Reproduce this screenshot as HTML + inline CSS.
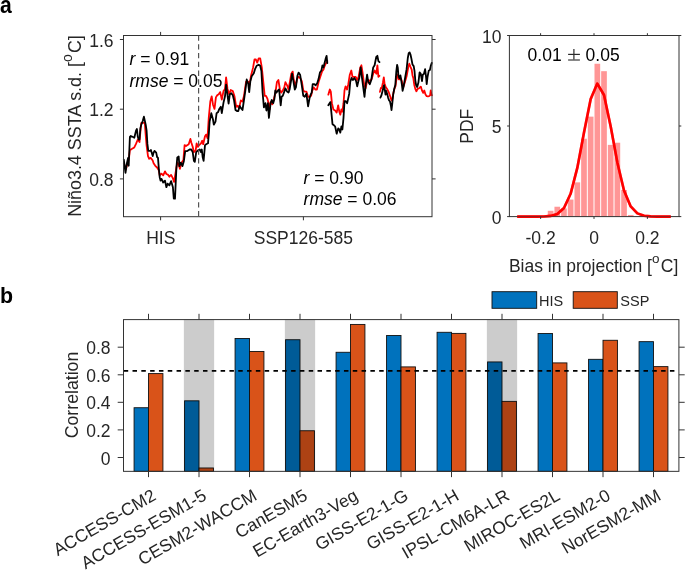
<!DOCTYPE html>
<html><head><meta charset="utf-8"><style>
html,body{margin:0;padding:0;background:#fff;overflow:hidden;}
svg{display:block;filter:blur(0.3px);}
text{font-family:"Liberation Sans",sans-serif;}
.t{font-size:17.5px;fill:#262626;}
.k{font-size:17.5px;fill:#000;}
.l{font-size:14.5px;fill:#262626;}
.p{font-size:22.5px;font-weight:bold;fill:#000;}
</style></head><body>
<svg width="685" height="570" viewBox="0 0 685 570">
<rect width="685" height="570" fill="#fff"/>
<g fill="none" stroke-linejoin="round" stroke-linecap="round">
<polyline points="123.8,163.2 125.9,169.3 129.0,157.9 129.9,150.0 131.6,149.1 134.3,147.4 136.0,143.9 137.8,139.5 139.5,142.1 140.4,131.6 141.3,122.8 143.1,122.8 144.8,122.8 145.7,135.1 146.6,145.6 148.0,156.1 149.2,158.8 150.9,157.9 152.7,160.5 153.6,163.2 155.3,165.8 157.1,167.5 158.8,170.2 159.7,175.4 161.5,173.7 163.2,175.4 165.0,171.4 166.4,174.0 168.2,174.9 169.4,176.7 171.1,174.9 172.9,178.4 174.1,181.9 175.5,173.2 177.3,162.6 178.7,164.4 179.9,168.8 181.7,162.6 183.4,160.0 184.6,145.1 186.0,146.0 188.7,144.2 190.4,138.9 191.3,142.5 192.7,146.8 193.9,152.1 195.7,150.4 196.6,143.3 198.0,146.8 199.2,145.1 201.0,143.3 202.2,140.7 203.2,144.2 205.0,136.3 206.2,134.6 207.5,138.1 208.8,117.4 210.3,101.6 211.7,96.3 213.0,104.7 214.5,108.9 215.9,97.4 217.2,95.3 218.7,94.2 220.2,92.1 221.8,99.5 223.5,91.1 225.0,88.9 226.1,77.4 227.5,88.9 229.2,94.2 230.7,90.0 232.8,91.1 234.5,96.3 236.2,106.8 237.6,105.8 239.1,107.9 240.8,100.5 242.5,101.6 243.9,96.3 246.1,81.6 248.2,81.6 249.6,84.7 250.9,76.3 253.0,67.9 254.5,59.5 255.9,59.5 257.2,62.6 258.7,58.4 260.2,58.4 261.8,67.4 263.3,82.1 264.7,95.8 266.0,95.8 267.5,98.9 268.5,103.2 269.6,109.5 270.6,102.1 272.3,104.2 273.8,98.9 275.3,93.7 276.9,82.1 278.4,80.0 279.9,89.5 281.2,92.6 282.8,90.5 284.3,87.4 285.4,82.1 287.1,85.3 288.5,89.5 290.0,81.1 291.3,73.7 292.7,71.6 293.8,80.0 295.5,86.3 297.0,79.0 298.4,76.8 300.1,77.9 301.8,81.1 303.3,90.5 304.7,91.6 306.4,91.6 308.1,96.8 309.6,96.8 311.1,95.8 312.3,90.5 313.8,87.4 315.3,89.5 316.9,89.5 318.6,82.1 320.3,76.8 322.0,71.6 323.5,69.5 324.5,66.3 326.0,63.2 327.3,61.1" stroke="#ff0000" stroke-width="1.8"/>
<polyline points="328.3,94.7 329.8,89.5 330.8,91.6 331.9,103.2 333.4,109.5 335.1,110.5 336.7,112.6 338.2,105.3 339.3,111.6 340.3,114.7 341.4,109.5 342.4,111.6 343.5,103.2 344.5,90.5 345.6,86.3 347.1,89.5 348.3,84.2 349.8,74.7 351.3,70.5 352.5,76.8 354.0,76.8 355.7,76.8 357.2,80.0 358.6,76.8 360.3,67.4 361.4,65.3 362.4,71.6 364.1,84.2 365.6,88.4 367.1,81.1 368.3,80.0 369.8,81.0 371.7,78.9 373.2,73.7 374.6,70.5 376.3,73.7 377.4,65.3 378.4,76.8 379.5,75.8" stroke="#ff0000" stroke-width="1.8"/>
<polyline points="379.9,91.9 380.9,88.0 381.8,88.0 383.0,82.2 383.8,77.4 384.5,83.2 385.7,87.0 387.1,89.0 388.6,91.9 390.0,95.7 391.5,100.5 392.4,98.6 393.4,92.8 394.4,89.0 395.5,86.1 396.8,76.4 397.8,74.5 398.7,79.3 400.0,79.3 400.9,78.3 401.9,81.2 402.9,88.0 404.0,85.1 405.0,81.8 406.6,76.3 408.2,67.6 409.3,63.7 410.5,66.8 411.7,69.6 412.5,75.5 413.3,77.9 414.3,85.0 415.3,88.9 416.4,91.3 417.6,88.9 419.2,88.2 420.8,86.6 422.0,90.5 423.2,92.9 424.3,90.5 425.5,94.5 426.7,96.1 427.9,96.4 429.1,96.1 430.1,95.3 430.7,90.5 431.4,94.5 431.9,95.3" stroke="#ff0000" stroke-width="1.8"/>
<polyline points="123.8,159.6 125.5,172.8 126.9,163.2 128.1,157.9 128.7,165.8 129.9,136.8 130.8,136.0 132.5,136.8 134.3,137.7 136.0,130.7 136.9,129.0 137.8,136.8 138.7,139.5 139.5,139.5 140.4,128.1 141.3,124.6 142.7,121.1 143.9,116.7 145.7,124.6 146.6,130.7 147.4,143.9 148.3,150.9 150.1,150.9 150.9,150.0 152.7,156.1 153.6,152.6 154.5,150.9 156.2,152.6 157.1,157.0 158.0,157.9 158.8,168.4 159.7,177.2 160.6,180.7 161.5,178.9 163.2,182.5 165.0,180.7 166.4,187.2 167.6,183.7 169.4,185.4 171.1,181.1 172.9,187.2 173.8,198.6 175.0,198.6 176.4,167.9 177.3,157.4 178.7,156.5 179.4,166.1 180.8,162.6 182.5,166.1 183.9,160.9 185.2,151.2 186.9,151.2 189.6,149.5 191.3,149.5 192.7,152.1 193.9,160.9 194.8,161.8 196.2,152.1 198.0,150.4 199.7,149.5 201.0,152.1 201.8,149.5 202.7,157.4 203.6,160.9 205.0,145.1 206.2,144.2 208.0,143.3 208.9,132.8 209.6,121.6 211.3,113.2 213.0,119.5 213.8,124.7 215.5,121.6 216.6,113.2 218.1,112.1 219.3,108.9 220.8,106.8 221.8,113.2 223.5,102.6 225.0,96.3 226.1,84.7 227.1,92.1 228.6,103.7 229.8,94.2 231.3,93.2 232.8,95.3 234.1,100.5 235.5,110.0 237.0,111.1 238.3,111.1 239.7,105.8 240.8,107.9 242.5,110.0 243.9,100.5 245.4,90.0 246.7,79.5 248.2,83.7 249.2,92.1 250.3,81.6 251.7,76.3 253.8,73.2 255.1,68.9 256.6,65.8 258.7,64.7 260.2,65.8 261.4,71.1 262.6,92.6 263.9,107.4 265.4,103.2 266.4,110.5 267.9,103.2 268.9,117.9 270.6,103.2 271.7,100.0 273.2,103.2 274.4,98.9 275.3,90.5 276.5,92.6 278.0,90.5 279.1,89.5 280.7,105.3 281.6,96.8 282.8,95.8 284.3,91.6 285.4,88.4 287.1,91.6 288.5,92.6 289.6,89.5 291.0,81.1 292.1,73.7 293.4,81.1 294.8,89.5 295.9,87.4 297.4,75.8 298.6,72.6 300.1,74.7 301.8,85.3 303.3,95.8 304.7,96.8 306.4,93.7 308.1,106.3 309.6,97.9 310.6,94.7 311.7,92.6 312.7,84.2 314.4,84.2 315.7,85.3 317.2,83.2 318.6,78.9 319.9,72.6 321.4,70.5 322.4,65.3 323.5,67.4 324.5,63.2 325.6,58.9 326.6,55.8 327.3,63.2" stroke="#000" stroke-width="1.8"/>
<polyline points="328.3,105.3 330.4,102.1 331.3,111.6 332.5,124.2 334.0,125.3 335.1,126.3 336.7,133.7 338.2,128.4 339.3,129.5 340.3,132.6 341.4,126.3 342.4,129.5 343.5,117.9 344.5,101.1 345.6,101.1 347.1,103.2 348.1,98.9 349.2,93.7 350.2,82.1 351.5,77.9 352.9,80.0 354.4,77.9 356.1,81.1 357.2,86.3 358.2,82.1 359.3,77.9 360.7,67.4 362.0,77.9 363.5,89.5 364.5,96.8 365.6,85.3 367.1,74.7 368.3,82.1 369.8,84.2 371.3,80.0 372.5,72.0 373.2,67.4 374.6,65.3 376.3,56.8 377.4,55.8 378.4,61.1 379.5,62.1" stroke="#000" stroke-width="1.8"/>
<polyline points="380.4,97.6 381.3,95.7 382.3,91.9 383.3,88.0 384.0,85.1 384.7,89.0 385.5,94.7 386.2,90.9 387.1,93.8 388.1,97.6 389.1,100.5 390.0,101.5 391.0,106.3 391.5,110.2 392.3,103.4 393.2,94.7 394.2,89.0 395.3,85.1 396.3,71.6 397.1,64.8 397.8,67.7 398.4,75.4 399.4,78.3 400.4,75.4 401.1,79.3 402.1,86.1 402.6,90.9 403.5,87.0 405.0,78.5 406.6,69.2 407.8,58.0 408.7,53.2 409.6,52.4 410.5,54.5 411.3,58.2 412.5,64.5 413.7,66.1 414.5,70.8 415.3,80.3 416.1,85.0 417.2,87.0 418.4,82.6 419.6,72.4 420.8,73.9 422.0,81.1 422.8,74.7 423.9,73.9 425.1,69.2 425.9,75.5 426.7,84.2 427.5,77.1 428.7,70.8 429.9,70.0 430.7,66.1 431.8,62.9" stroke="#000" stroke-width="1.8"/>
</g>
<line x1="198.6" y1="35.5" x2="198.6" y2="216.7" stroke="#555" stroke-width="1.2" stroke-dasharray="5.3,3.47"/>
<rect x="123.5" y="35.5" width="308.5" height="181.2" fill="none" stroke="#333333" stroke-width="1.0"/>
<line x1="119.9" y1="178.9" x2="123.5" y2="178.9" stroke="#333333"/>
<line x1="432.0" y1="178.9" x2="435.6" y2="178.9" stroke="#333333"/>
<text x="113.6" y="186.0" text-anchor="end" class="t">0.8</text>
<line x1="119.9" y1="109.2" x2="123.5" y2="109.2" stroke="#333333"/>
<line x1="432.0" y1="109.2" x2="435.6" y2="109.2" stroke="#333333"/>
<text x="113.6" y="116.3" text-anchor="end" class="t">1.2</text>
<line x1="119.9" y1="39.5" x2="123.5" y2="39.5" stroke="#333333"/>
<line x1="432.0" y1="39.5" x2="435.6" y2="39.5" stroke="#333333"/>
<text x="113.6" y="46.6" text-anchor="end" class="t">1.6</text>
<line x1="160.6" y1="31.9" x2="160.6" y2="35.5" stroke="#333333"/>
<line x1="160.6" y1="216.7" x2="160.6" y2="220.29999999999998" stroke="#333333"/>
<line x1="303.4" y1="31.9" x2="303.4" y2="35.5" stroke="#333333"/>
<line x1="303.4" y1="216.7" x2="303.4" y2="220.29999999999998" stroke="#333333"/>
<text x="160.8" y="244.1" text-anchor="middle" class="t">HIS</text>
<text x="303.4" y="244.1" text-anchor="middle" class="t">SSP126-585</text>
<text transform="translate(80.9,126.0) rotate(-90)" text-anchor="middle" class="t" style="font-size:17.9px">Niño3.4 SSTA s.d. [<tspan font-size="14" dy="-9">o</tspan><tspan dy="9" dx="1.2">C]</tspan></text>
<text x="129.5" y="64.9" class="k"><tspan font-style="italic">r</tspan> = 0.91</text>
<text x="129.5" y="86.9" class="k"><tspan font-style="italic">rmse</tspan> = 0.05</text>
<text x="303.6" y="183.5" class="k"><tspan font-style="italic">r</tspan> = 0.90</text>
<text x="303.6" y="205.3" class="k"><tspan font-style="italic">rmse</tspan> = 0.06</text>
<rect x="547.77" y="210.80" width="5.68" height="5.80" fill="#ff9696"/>
<rect x="554.45" y="206.73" width="5.67" height="9.87" fill="#ff9696"/>
<rect x="561.12" y="208.45" width="5.67" height="8.15" fill="#ff9696"/>
<rect x="567.80" y="199.58" width="5.68" height="17.02" fill="#ff9696"/>
<rect x="574.48" y="182.37" width="5.67" height="34.23" fill="#ff9696"/>
<rect x="581.15" y="138.73" width="5.68" height="77.87" fill="#ff9696"/>
<rect x="587.83" y="116.63" width="5.67" height="99.97" fill="#ff9696"/>
<rect x="594.50" y="63.75" width="5.67" height="152.85" fill="#ff9696"/>
<rect x="601.17" y="71.18" width="5.68" height="145.42" fill="#ff9696"/>
<rect x="607.85" y="144.88" width="5.67" height="71.72" fill="#ff9696"/>
<rect x="614.52" y="142.71" width="5.68" height="73.89" fill="#ff9696"/>
<rect x="621.20" y="189.98" width="5.67" height="26.62" fill="#ff9696"/>
<rect x="627.88" y="214.97" width="5.67" height="1.63" fill="#ff9696"/>
<polyline points="517.2,216.6 523.9,216.6 530.6,216.6 537.3,216.6 543.9,216.5 550.6,215.9 557.3,214.0 564.0,208.0 570.6,193.8 577.3,167.9 584.0,132.5 590.7,99.0 597.3,83.6 604.0,95.0 610.7,126.6 617.4,162.7 624.0,190.5 630.7,206.4 637.4,213.4 644.1,215.8 650.7,216.4 657.4,216.6 664.1,216.6 670.8,216.6" fill="none" stroke="#ff0000" stroke-width="2.6" stroke-linejoin="round"/>
<rect x="509.4" y="35.5" width="169.60000000000002" height="181.1" fill="none" stroke="#333333" stroke-width="1.0"/>
<polyline points="517.2,216.6 523.9,216.6 530.6,216.6 537.3,216.6 543.9,216.5 550.6,215.9 557.3,214.0 564.0,208.0 570.6,193.8 577.3,167.9 584.0,132.5 590.7,99.0 597.3,83.6 604.0,95.0 610.7,126.6 617.4,162.7 624.0,190.5 630.7,206.4 637.4,213.4 644.1,215.8 650.7,216.4 657.4,216.6 664.1,216.6 670.8,216.6" fill="none" stroke="#ff0000" stroke-opacity="0.45" stroke-width="2.6" stroke-linejoin="round"/>
<line x1="507.09999999999997" y1="216.6" x2="509.4" y2="216.6" stroke="#333333"/>
<line x1="679.0" y1="216.6" x2="681.3" y2="216.6" stroke="#333333"/>
<text x="501.4" y="223.7" text-anchor="end" class="t">0</text>
<line x1="507.09999999999997" y1="126.0" x2="509.4" y2="126.0" stroke="#333333"/>
<line x1="679.0" y1="126.0" x2="681.3" y2="126.0" stroke="#333333"/>
<text x="501.4" y="133.2" text-anchor="end" class="t">5</text>
<line x1="507.09999999999997" y1="35.5" x2="509.4" y2="35.5" stroke="#333333"/>
<line x1="679.0" y1="35.5" x2="681.3" y2="35.5" stroke="#333333"/>
<text x="501.4" y="42.6" text-anchor="end" class="t">10</text>
<line x1="540.6" y1="33.2" x2="540.6" y2="35.5" stroke="#333333"/>
<line x1="540.6" y1="216.6" x2="540.6" y2="218.9" stroke="#333333"/>
<text x="540.6" y="243.8" text-anchor="middle" class="t">-0.2</text>
<line x1="594.0" y1="33.2" x2="594.0" y2="35.5" stroke="#333333"/>
<line x1="594.0" y1="216.6" x2="594.0" y2="218.9" stroke="#333333"/>
<text x="594.0" y="243.8" text-anchor="middle" class="t">0</text>
<line x1="647.4" y1="33.2" x2="647.4" y2="35.5" stroke="#333333"/>
<line x1="647.4" y1="216.6" x2="647.4" y2="218.9" stroke="#333333"/>
<text x="647.4" y="243.8" text-anchor="middle" class="t">0.2</text>
<text transform="translate(472.7,126.2) rotate(-90)" text-anchor="middle" class="t">PDF</text>
<text x="593.6" y="271.6" text-anchor="middle" class="t">Bias in projection [<tspan font-size="13.5" dy="-8.3">o</tspan><tspan dy="8.3" dx="1.4">C]</tspan></text>
<text x="527.6" y="60.6" class="k">0.01</text>
<text x="585.6" y="60.6" class="k">0.05</text>
<g stroke="#2a2a2a" stroke-width="1.2"><line x1="568.1" y1="54.4" x2="579.9" y2="54.4"/><line x1="573.9" y1="49" x2="573.9" y2="59.7"/><line x1="568.1" y1="60" x2="579.9" y2="60" stroke="#555" stroke-width="1.4"/></g>
<rect x="134.07" y="407.72" width="14.43" height="63.63" fill="#0072bd" stroke="#111" stroke-width="0.9"/>
<rect x="148.50" y="373.59" width="14.43" height="97.76" fill="#d95319" stroke="#111" stroke-width="0.9"/>
<rect x="184.57" y="400.82" width="14.43" height="70.53" fill="#0072bd" stroke="#111" stroke-width="0.9"/>
<rect x="199.00" y="467.98" width="14.43" height="3.37" fill="#d95319" stroke="#111" stroke-width="0.9"/>
<rect x="235.07" y="338.49" width="14.43" height="132.86" fill="#0072bd" stroke="#111" stroke-width="0.9"/>
<rect x="249.50" y="351.45" width="14.43" height="119.90" fill="#d95319" stroke="#111" stroke-width="0.9"/>
<rect x="285.57" y="339.73" width="14.43" height="131.62" fill="#0072bd" stroke="#111" stroke-width="0.9"/>
<rect x="300.00" y="430.75" width="14.43" height="40.60" fill="#d95319" stroke="#111" stroke-width="0.9"/>
<rect x="336.07" y="352.28" width="14.43" height="119.07" fill="#0072bd" stroke="#111" stroke-width="0.9"/>
<rect x="350.50" y="324.43" width="14.43" height="146.92" fill="#d95319" stroke="#111" stroke-width="0.9"/>
<rect x="386.57" y="335.46" width="14.43" height="135.89" fill="#0072bd" stroke="#111" stroke-width="0.9"/>
<rect x="401.00" y="366.90" width="14.43" height="104.45" fill="#d95319" stroke="#111" stroke-width="0.9"/>
<rect x="437.07" y="332.29" width="14.43" height="139.06" fill="#0072bd" stroke="#111" stroke-width="0.9"/>
<rect x="451.50" y="333.39" width="14.43" height="137.96" fill="#d95319" stroke="#111" stroke-width="0.9"/>
<rect x="487.57" y="361.94" width="14.43" height="109.41" fill="#0072bd" stroke="#111" stroke-width="0.9"/>
<rect x="502.00" y="401.37" width="14.43" height="69.98" fill="#d95319" stroke="#111" stroke-width="0.9"/>
<rect x="538.07" y="333.53" width="14.43" height="137.82" fill="#0072bd" stroke="#111" stroke-width="0.9"/>
<rect x="552.50" y="362.90" width="14.43" height="108.45" fill="#d95319" stroke="#111" stroke-width="0.9"/>
<rect x="588.57" y="359.32" width="14.43" height="112.03" fill="#0072bd" stroke="#111" stroke-width="0.9"/>
<rect x="603.00" y="340.28" width="14.43" height="131.07" fill="#d95319" stroke="#111" stroke-width="0.9"/>
<rect x="639.07" y="341.66" width="14.43" height="129.69" fill="#0072bd" stroke="#111" stroke-width="0.9"/>
<rect x="653.50" y="366.62" width="14.43" height="104.73" fill="#d95319" stroke="#111" stroke-width="0.9"/>
<rect x="183.85" y="319.6" width="30.3" height="151.75" fill="#000" fill-opacity="0.2"/>
<rect x="284.85" y="319.6" width="30.3" height="151.75" fill="#000" fill-opacity="0.2"/>
<rect x="486.85" y="319.6" width="30.3" height="151.75" fill="#000" fill-opacity="0.2"/>
<line x1="123.7" y1="370.9" x2="676" y2="370.9" stroke="#000" stroke-width="1.8" stroke-dasharray="4.5,4.31"/>
<rect x="123.5" y="319.6" width="555.4" height="151.75" fill="none" stroke="#333333" stroke-width="1.0"/>
<line x1="117.7" y1="457.5" x2="123.5" y2="457.5" stroke="#333333"/>
<line x1="678.9" y1="457.5" x2="684.6999999999999" y2="457.5" stroke="#333333"/>
<text x="110.6" y="464.6" text-anchor="end" class="t">0</text>
<line x1="117.7" y1="429.9" x2="123.5" y2="429.9" stroke="#333333"/>
<line x1="678.9" y1="429.9" x2="684.6999999999999" y2="429.9" stroke="#333333"/>
<text x="110.6" y="437.0" text-anchor="end" class="t">0.2</text>
<line x1="117.7" y1="402.3" x2="123.5" y2="402.3" stroke="#333333"/>
<line x1="678.9" y1="402.3" x2="684.6999999999999" y2="402.3" stroke="#333333"/>
<text x="110.6" y="409.4" text-anchor="end" class="t">0.4</text>
<line x1="117.7" y1="374.8" x2="123.5" y2="374.8" stroke="#333333"/>
<line x1="678.9" y1="374.8" x2="684.6999999999999" y2="374.8" stroke="#333333"/>
<text x="110.6" y="381.9" text-anchor="end" class="t">0.6</text>
<line x1="117.7" y1="347.2" x2="123.5" y2="347.2" stroke="#333333"/>
<line x1="678.9" y1="347.2" x2="684.6999999999999" y2="347.2" stroke="#333333"/>
<text x="110.6" y="354.3" text-anchor="end" class="t">0.8</text>
<line x1="148.5" y1="313.8" x2="148.5" y2="319.6" stroke="#333333"/>
<line x1="148.5" y1="471.35" x2="148.5" y2="477.15000000000003" stroke="#333333"/>
<text transform="translate(157.1,498.9) rotate(-30)" text-anchor="end" class="t">ACCESS-CM2</text>
<line x1="199.0" y1="313.8" x2="199.0" y2="319.6" stroke="#333333"/>
<line x1="199.0" y1="471.35" x2="199.0" y2="477.15000000000003" stroke="#333333"/>
<text transform="translate(207.6,498.9) rotate(-30)" text-anchor="end" class="t">ACCESS-ESM1-5</text>
<line x1="249.5" y1="313.8" x2="249.5" y2="319.6" stroke="#333333"/>
<line x1="249.5" y1="471.35" x2="249.5" y2="477.15000000000003" stroke="#333333"/>
<text transform="translate(258.1,498.9) rotate(-30)" text-anchor="end" class="t">CESM2-WACCM</text>
<line x1="300.0" y1="313.8" x2="300.0" y2="319.6" stroke="#333333"/>
<line x1="300.0" y1="471.35" x2="300.0" y2="477.15000000000003" stroke="#333333"/>
<text transform="translate(308.6,498.9) rotate(-30)" text-anchor="end" class="t">CanESM5</text>
<line x1="350.5" y1="313.8" x2="350.5" y2="319.6" stroke="#333333"/>
<line x1="350.5" y1="471.35" x2="350.5" y2="477.15000000000003" stroke="#333333"/>
<text transform="translate(359.1,498.9) rotate(-30)" text-anchor="end" class="t">EC-Earth3-Veg</text>
<line x1="401.0" y1="313.8" x2="401.0" y2="319.6" stroke="#333333"/>
<line x1="401.0" y1="471.35" x2="401.0" y2="477.15000000000003" stroke="#333333"/>
<text transform="translate(409.6,498.9) rotate(-30)" text-anchor="end" class="t">GISS-E2-1-G</text>
<line x1="451.5" y1="313.8" x2="451.5" y2="319.6" stroke="#333333"/>
<line x1="451.5" y1="471.35" x2="451.5" y2="477.15000000000003" stroke="#333333"/>
<text transform="translate(460.1,498.9) rotate(-30)" text-anchor="end" class="t">GISS-E2-1-H</text>
<line x1="502.0" y1="313.8" x2="502.0" y2="319.6" stroke="#333333"/>
<line x1="502.0" y1="471.35" x2="502.0" y2="477.15000000000003" stroke="#333333"/>
<text transform="translate(510.6,498.9) rotate(-30)" text-anchor="end" class="t">IPSL-CM6A-LR</text>
<line x1="552.5" y1="313.8" x2="552.5" y2="319.6" stroke="#333333"/>
<line x1="552.5" y1="471.35" x2="552.5" y2="477.15000000000003" stroke="#333333"/>
<text transform="translate(561.1,498.9) rotate(-30)" text-anchor="end" class="t">MIROC-ES2L</text>
<line x1="603.0" y1="313.8" x2="603.0" y2="319.6" stroke="#333333"/>
<line x1="603.0" y1="471.35" x2="603.0" y2="477.15000000000003" stroke="#333333"/>
<text transform="translate(611.6,498.9) rotate(-30)" text-anchor="end" class="t">MRI-ESM2-0</text>
<line x1="653.5" y1="313.8" x2="653.5" y2="319.6" stroke="#333333"/>
<line x1="653.5" y1="471.35" x2="653.5" y2="477.15000000000003" stroke="#333333"/>
<text transform="translate(662.1,498.9) rotate(-30)" text-anchor="end" class="t">NorESM2-MM</text>
<text transform="translate(78.0,395.0) rotate(-90)" text-anchor="middle" class="t" style="font-size:17.7px">Correlation</text>
<rect x="492" y="291.7" width="44.7" height="16.6" fill="#0072bd" stroke="#111" stroke-width="0.9"/>
<text x="539.1" y="305.6" class="l">HIS</text>
<rect x="573.2" y="291.7" width="44.1" height="16.6" fill="#d95319" stroke="#111" stroke-width="0.9"/>
<text x="620.3" y="305.6" class="l">SSP</text>
<text x="0" y="12.7" class="p" style="font-size:24px" transform="scale(0.88,1)">a</text>
<text x="0" y="303.2" class="p" style="font-size:23px" transform="scale(0.93,1)">b</text>
</svg>
</body></html>
